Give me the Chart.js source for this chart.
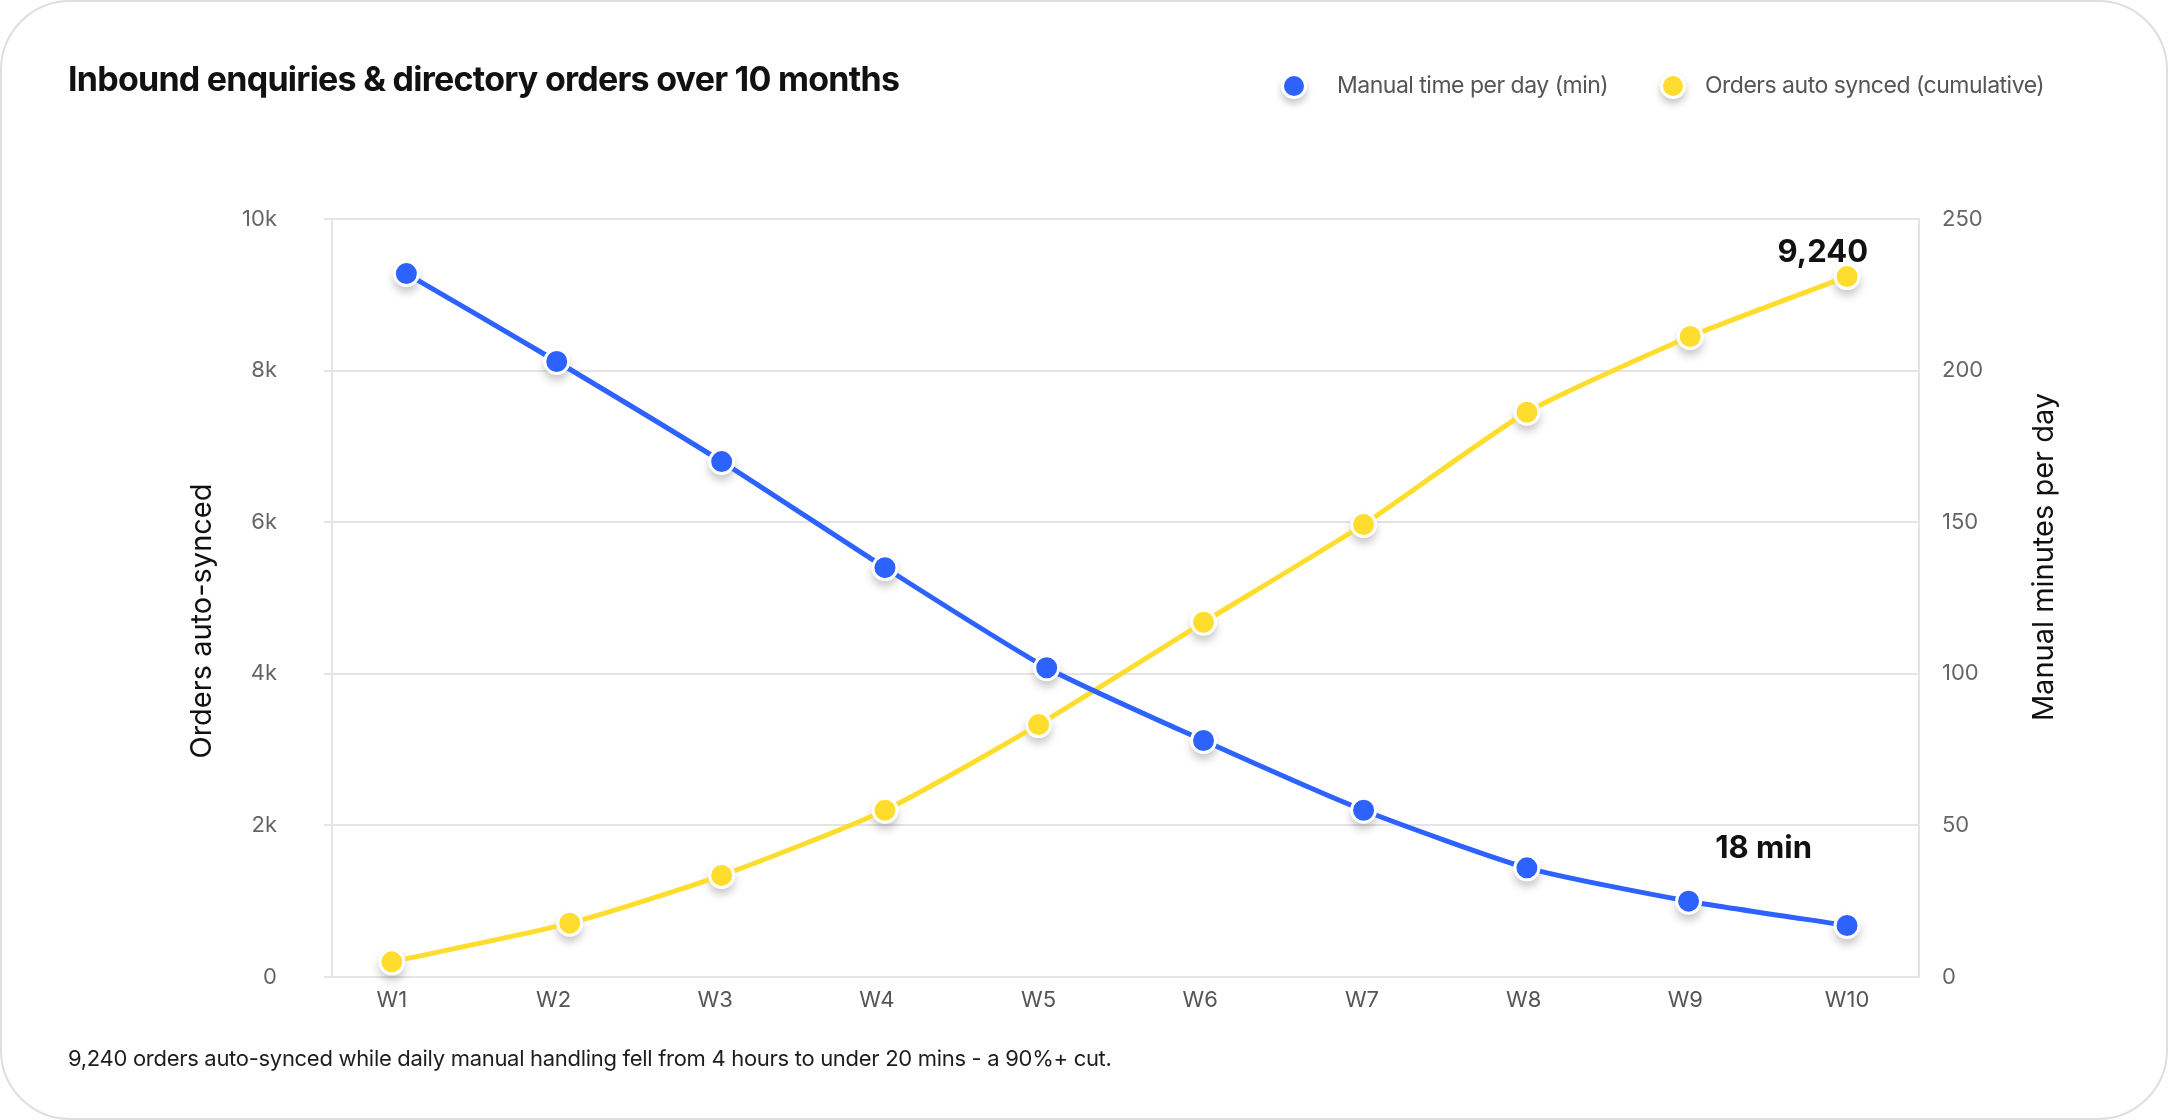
<!DOCTYPE html>
<html>
<head>
<meta charset="utf-8">
<title>Inbound enquiries & directory orders</title>
<script src="https://cdn.jsdelivr.net/npm/chart.js@4.4.1/dist/chart.umd.min.js"></script>
<style>
  html, body { margin: 0; padding: 0; background: #fff; }
  body { width: 2168px; height: 1120px; position: relative; overflow: hidden; font-family: Inter, "Noto Sans", sans-serif; }
  .card { position: absolute; left: 0; top: 0; width: 2168px; height: 1120px; box-sizing: border-box; border: 2px solid #dedede; border-radius: 70px; }
  #chart { position: absolute; left: 0; top: 0; }
  .title { position: absolute; left: 68px; top: 62px; font-size: 34px; line-height: 34px; font-weight: 700; color: #111; letter-spacing: -0.75px; white-space: nowrap; }
  .legend-dot { position: absolute; width: 20px; height: 20px; border: 3px solid #fff; border-radius: 50%; box-shadow: 0 5px 7px rgba(0,0,0,0.22); }
  .legend-text { position: absolute; top: 74px; font-size: 23px; line-height: 23px; color: #555; letter-spacing: -0.5px; white-space: nowrap; }
  .footer { position: absolute; left: 68px; top: 1047px; font-size: 22px; line-height: 22px; color: #1d1d1d; letter-spacing: -0.3px; white-space: nowrap; }
</style>
</head>
<body>
<div class="card"></div>
<canvas id="chart" width="2168" height="1120"></canvas>
<div class="title">Inbound enquiries &amp; directory orders over 10 months</div>
<div class="legend-dot" style="left:1281px; top:73px; background:#2e62ff;"></div>
<div class="legend-text" style="left:1337px;">Manual time per day (min)</div>
<div class="legend-dot" style="left:1660px; top:73px; background:#ffdd2e;"></div>
<div class="legend-text" style="left:1705px;">Orders auto synced (cumulative)</div>
<div class="footer">9,240 orders auto-synced while daily manual handling fell from 4 hours to under 20 mins - a 90%+ cut.</div>

<script>
const weeks = ['W1', 'W2', 'W3', 'W4', 'W5', 'W6', 'W7', 'W8', 'W9', 'W10'];
// where each point sits along the week axis (1 = W1)
const manualWeekPos = [1.09, 2.02, 3.04, 4.05, 5.05, 6.02, 7.01, 8.02, 9.02, 10.0];
const ordersWeekPos = [1.0, 2.1, 3.04, 4.05, 5.0, 6.02, 7.01, 8.02, 9.03, 10.0];
const manualMinutes = [232, 203, 170, 135, 102, 78, 55, 36, 25, 17];
const ordersSynced = [200, 710, 1340, 2200, 3330, 4680, 5970, 7450, 8450, 9240];
const orderTicks = [0, 2000, 4000, 6000, 8000, 10000];
const minuteTicks = [0, 50, 100, 150, 200, 250];

const BLUE = '#2e62ff';
const YELLOW = '#ffdd2e';
const GRID = '#e4e4e4';

// soft shadow under each point, drawn before the lines
const pointShadows = {
  id: 'pointShadows',
  beforeDatasetsDraw(chart) {
    const ctx = chart.ctx;
    chart.data.datasets.forEach((ds, i) => {
      const meta = chart.getDatasetMeta(i);
      meta.data.forEach(pt => {
        ctx.save();
        ctx.shadowColor = 'rgba(0,0,0,0.22)';
        ctx.shadowBlur = 9;
        ctx.shadowOffsetY = 6;
        ctx.fillStyle = '#fff';
        ctx.beginPath();
        ctx.arc(pt.x, pt.y, 13, 0, Math.PI * 2);
        ctx.fill();
        ctx.restore();
      });
    });
  }
};

// bold value callouts at the last week
const callouts = {
  id: 'callouts',
  afterDatasetsDraw(chart) {
    const ctx = chart.ctx;
    const items = [
      { ds: 1, text: ordersSynced[ordersSynced.length - 1].toLocaleString('en-US'), dx: 21, dy: -15 },
      { ds: 0, text: '18 min', dx: -35, dy: -67 }
    ];
    ctx.save();
    ctx.font = '700 31px Inter';
    ctx.fillStyle = '#111';
    ctx.textAlign = 'right';
    ctx.textBaseline = 'alphabetic';
    items.forEach(it => {
      const meta = chart.getDatasetMeta(it.ds);
      const pt = meta.data[meta.data.length - 1];
      ctx.fillText(it.text, pt.x + it.dx, pt.y + it.dy);
    });
    ctx.restore();
  }
};

// both axis titles read bottom-to-top, as in the original
const axisTitles = {
  id: 'axisTitles',
  afterDraw(chart) {
    const ctx = chart.ctx;
    const area = chart.chartArea;
    const mid = (area.top + area.bottom) / 2;
    const list = [
      { x: chart.scales.y.left + 202, y: mid + 23, text: 'Orders auto-synced' },
      { x: chart.scales.y2.right - 124, y: mid - 41, text: 'Manual minutes per day' }
    ];
    ctx.save();
    ctx.font = '29px Inter';
    ctx.fillStyle = '#111';
    ctx.textAlign = 'center';
    ctx.textBaseline = 'middle';
    list.forEach(t => {
      ctx.save();
      ctx.translate(t.x, t.y);
      ctx.rotate(-Math.PI / 2);
      ctx.fillText(t.text, 0, 0);
      ctx.restore();
    });
    ctx.restore();
  }
};

function build() {
  Chart.defaults.font.family = 'Inter';
  Chart.defaults.color = '#666';

  new Chart(document.getElementById('chart'), {
    type: 'line',
    data: {
      datasets: [
        {
          label: 'Manual time per day (min)',
          data: manualMinutes.map((v, i) => ({ x: manualWeekPos[i], y: v })),
          yAxisID: 'y2',
          borderColor: BLUE,
          backgroundColor: BLUE,
          borderWidth: 5,
          tension: 0.2,
          pointRadius: 12,
          pointBorderWidth: 3,
          pointBorderColor: '#fff',
          pointBackgroundColor: BLUE
        },
        {
          label: 'Orders auto synced (cumulative)',
          data: ordersSynced.map((v, i) => ({ x: ordersWeekPos[i], y: v })),
          yAxisID: 'y',
          borderColor: YELLOW,
          backgroundColor: YELLOW,
          borderWidth: 5,
          tension: 0.2,
          pointRadius: 12,
          pointBorderWidth: 3,
          pointBorderColor: '#fff',
          pointBackgroundColor: YELLOW
        }
      ]
    },
    options: {
      responsive: false,
      animation: false,
      devicePixelRatio: 1,
      layout: { padding: { left: 0, right: 0, top: 219, bottom: 93 } },
      plugins: {
        legend: { display: false },
        title: { display: false },
        tooltip: { enabled: false }
      },
      scales: {
        x: {
          type: 'linear',
          min: 0.63,
          max: 10.445,
          afterBuildTicks: s => { s.ticks = weeks.map((w, i) => ({ value: i + 1 })); },
          afterFit: s => { s.height = 50; },
          ticks: {
            autoSkip: false,
            maxRotation: 0,
            padding: 10,
            color: '#555',
            font: { size: 22 },
            callback: v => weeks[v - 1]
          },
          grid: { display: false, drawTicks: false },
          border: { display: true, color: GRID, width: 2 }
        },
        y: {
          position: 'left',
          min: 0,
          max: 10000,
          afterBuildTicks: s => { s.ticks = orderTicks.map(v => ({ value: v })); },
          afterFit: s => { s.width = 332; },
          ticks: {
            padding: 47,
            color: '#666',
            font: { size: 22 },
            callback: v => v === 0 ? '0' : (v / 1000) + 'k'
          },
          grid: { color: GRID, lineWidth: 2, tickLength: 8 },
          border: { display: true, color: GRID, width: 2 }
        },
        y2: {
          position: 'right',
          min: 0,
          max: 250,
          afterBuildTicks: s => { s.ticks = minuteTicks.map(v => ({ value: v })); },
          afterFit: s => { s.width = 249; },
          ticks: {
            padding: 23,
            color: '#666',
            font: { size: 22 }
          },
          grid: { display: false, drawTicks: false },
          border: { display: true, color: GRID, width: 2 }
        }
      }
    },
    plugins: [pointShadows, callouts, axisTitles]
  });
}

if (document.fonts && document.fonts.load) {
  Promise.all([
    document.fonts.load('22px Inter'),
    document.fonts.load('700 31px Inter')
  ]).then(build, build);
} else {
  build();
}
</script>
</body>
</html>
